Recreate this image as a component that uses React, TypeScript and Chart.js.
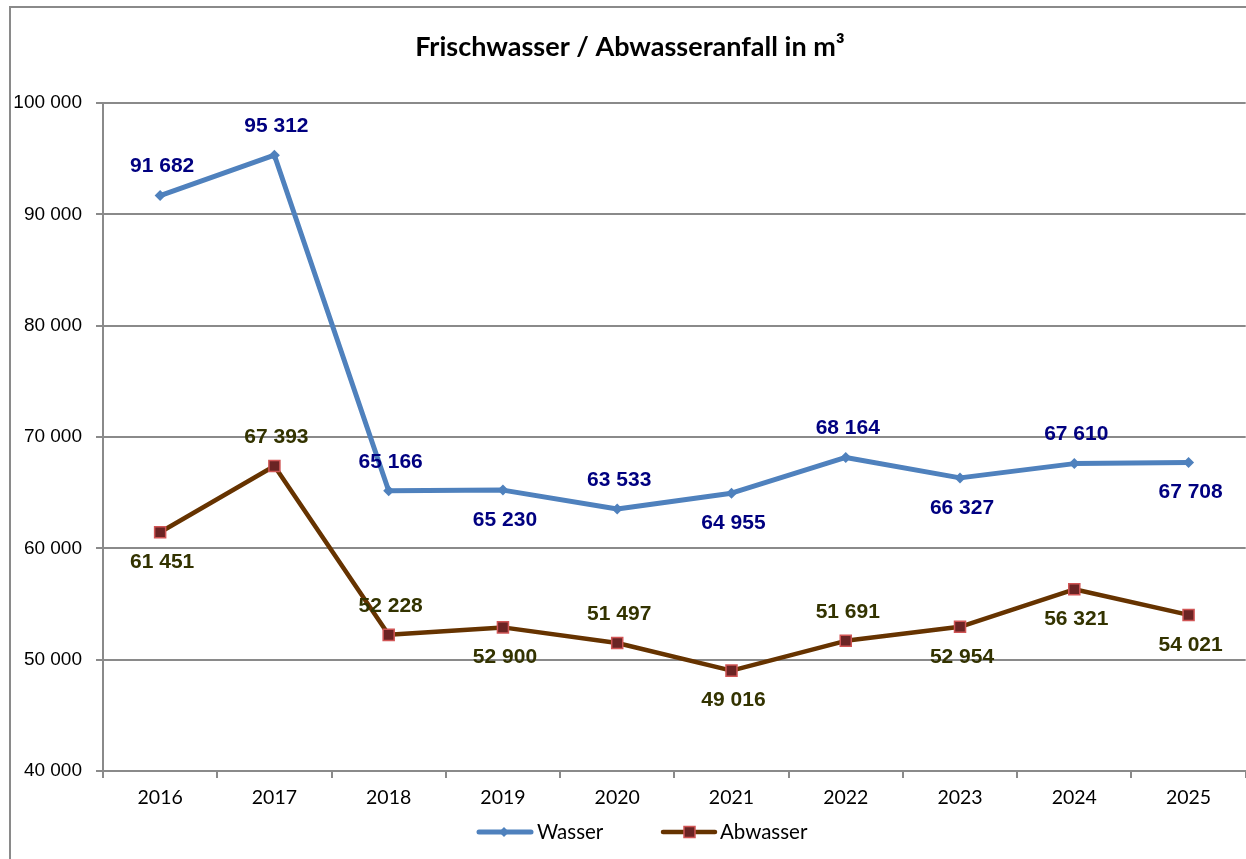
import React, { useEffect, useRef } from "react";
import { Chart, registerables } from "chart.js";

Chart.register(...registerables);

const YEARS = ["2016", "2017", "2018", "2019", "2020", "2021", "2022", "2023", "2024", "2025"];
const WASSER = [91682, 95312, 65166, 65230, 63533, 64955, 68164, 66327, 67610, 67708];
const ABWASSER = [61451, 67393, 52228, 52900, 51497, 49016, 51691, 52954, 56321, 54021];
const WASSER_LABEL_POS = ["above", "above", "above", "below", "above", "below", "above", "below", "above", "below"];
const ABWASSER_LABEL_POS = ["below", "above", "above", "below", "above", "below", "above", "below", "below", "below"];
const Y_MIN = 40000;
const Y_MAX = 100000;
const Y_STEP = 10000;
const TITLE = "Frischwasser / Abwasseranfall in m³";

const W_COLOR = "#4F81BD";
const A_COLOR = "#663300";
const A_FILL = "#6B2424";
const A_BORDER = "#D05555";
const GRID = "#8a8a8a";

const fmt = (v: number) => String(v).replace(/\B(?=(\d{3})+(?!\d))/g, " ");

const overlay = {
  id: "overlay",
  beforeDraw(chart: any) {
    const ctx = chart.ctx;
    ctx.save();
    ctx.fillStyle = "#ffffff";
    ctx.fillRect(0, 0, 3000, 3000);
    ctx.fillStyle = "#8a8a8a";
    ctx.fillRect(9, 6, 2, 3000);
    ctx.fillRect(9, 6, 3000, 2);
    // title
    ctx.fillStyle = "#000";
    ctx.font = "bold 27px Lato";
    ctx.textAlign = "center";
    ctx.textBaseline = "middle";
    ctx.fillText(TITLE, 630, 47);
    ctx.restore();
  },
  afterDatasetsDraw(chart: any) {
    const ctx = chart.ctx;
    ctx.save();
    ctx.font = "bold 21px 'Liberation Sans', Arial";
    ctx.textAlign = "center";
    ctx.textBaseline = "middle";
    const cfg = [
      { data: WASSER, pos: WASSER_LABEL_POS, color: "#000080" },
      { data: ABWASSER, pos: ABWASSER_LABEL_POS, color: "#333300" },
    ];
    cfg.forEach((c, di) => {
      const meta = chart.getDatasetMeta(di);
      meta.data.forEach((pt: any, i: number) => {
        const off = c.pos[i] === "above" ? -29 : 30;
        ctx.fillStyle = c.color;
        ctx.fillText(fmt(c.data[i]), pt.x + 2, pt.y + off);
      });
    });
    // legend
    const ly = 832;
    ctx.lineCap = "round";
    ctx.strokeStyle = W_COLOR;
    ctx.lineWidth = 5;
    ctx.beginPath();
    ctx.moveTo(479, ly);
    ctx.lineTo(531, ly);
    ctx.stroke();
    ctx.fillStyle = W_COLOR;
    ctx.beginPath();
    ctx.moveTo(504, ly - 5);
    ctx.lineTo(509, ly);
    ctx.lineTo(504, ly + 5);
    ctx.lineTo(499, ly);
    ctx.closePath();
    ctx.fill();
    ctx.strokeStyle = A_COLOR;
    ctx.lineWidth = 4.5;
    ctx.beginPath();
    ctx.moveTo(663, ly);
    ctx.lineTo(715, ly);
    ctx.stroke();
    ctx.fillStyle = A_FILL;
    ctx.fillRect(684, ly - 5.5, 11, 11);
    ctx.strokeStyle = A_BORDER;
    ctx.lineWidth = 1.5;
    ctx.strokeRect(684, ly - 5.5, 11, 11);
    ctx.fillStyle = "#000";
    ctx.font = "20.5px Lato";
    ctx.textAlign = "left";
    ctx.fillText("Wasser", 537, ly);
    ctx.fillText("Abwasser", 720, ly);
    ctx.restore();
  },
};

export default function App() {
  const ref = useRef<HTMLCanvasElement>(null);
  useEffect(() => {
    if (!ref.current) return;
    const chart = new Chart(ref.current, {
      type: "line",
      data: {
        labels: YEARS,
        datasets: [
          {
            label: "Wasser",
            data: WASSER,
            borderColor: W_COLOR,
            backgroundColor: W_COLOR,
            borderWidth: 5,
            tension: 0,
            pointStyle: "rectRot",
            pointRadius: 5.5,
            pointBorderWidth: 0,
            pointBackgroundColor: W_COLOR,
            borderJoinStyle: "round",
          },
          {
            label: "Abwasser",
            data: ABWASSER,
            borderColor: A_COLOR,
            backgroundColor: A_FILL,
            borderWidth: 4.5,
            tension: 0,
            pointStyle: "rect",
            pointRadius: 7.8,
            pointBorderWidth: 1.5,
            pointBorderColor: A_BORDER,
            pointBackgroundColor: A_FILL,
            borderJoinStyle: "round",
          },
        ],
      },
      plugins: [overlay],
      options: {
        responsive: false,
        animation: false,
        layout: { padding: { left: 0, right: 0, top: 103, bottom: 0 } },
        plugins: {
          legend: { display: false },
          title: { display: false },
          tooltip: { enabled: false },
        },
        scales: {
          x: {
            offset: true,
            grid: {
              display: true,
              drawOnChartArea: false,
              drawTicks: true,
              tickLength: 7,
              color: GRID,
              lineWidth: 2,
              offset: true,
            },
            border: { display: true, color: GRID, width: 2 },
            ticks: {
              color: "#000",
              font: { family: "Lato", size: 19.5 },
              padding: 8,
              maxRotation: 0,
            },
            afterFit: (s: any) => {
              s.height = 88;
            },
          },
          y: {
            min: Y_MIN,
            max: Y_MAX,
            grid: {
              color: GRID,
              lineWidth: 2,
              drawTicks: true,
              tickLength: 7,
            },
            border: { display: true, color: GRID, width: 2 },
            ticks: {
              stepSize: Y_STEP,
              color: "#000",
              font: { family: "'Liberation Sans', Arial", size: 19 },
              padding: 14,
              callback: (v: any) => fmt(Number(v)),
            },
            afterFit: (s: any) => {
              s.width = 103;
            },
          },
        },
      },
    });
    return () => chart.destroy();
  }, []);
  return (
    <div style={{ position: "fixed", left: 0, top: 0, width: 1246, height: 859, overflow: "hidden", background: "#fff" }}>
      <canvas ref={ref} width={1255} height={859} style={{ display: "block", width: 1255, height: 859 }} />
    </div>
  );
}
